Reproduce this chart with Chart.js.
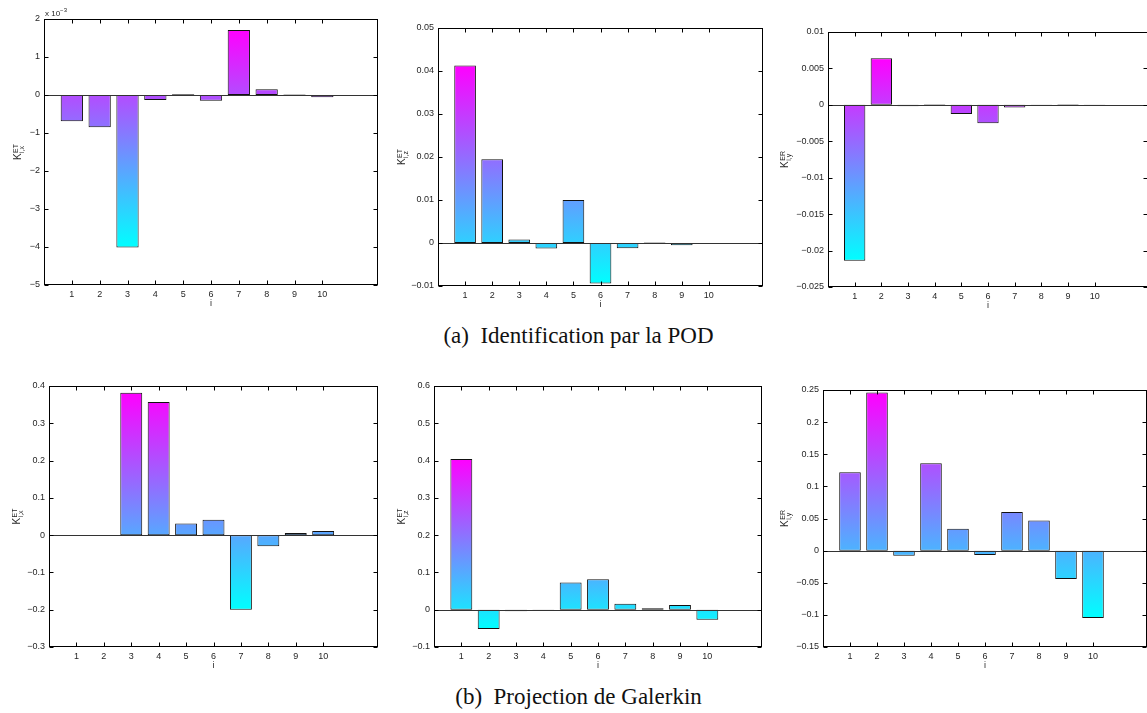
<!DOCTYPE html>
<html>
<head>
<meta charset="utf-8">
<title>Coefficients K</title>
<script src="https://cdn.jsdelivr.net/npm/chart.js@4.4.1/dist/chart.umd.min.js"></script>
<style>
  html, body { margin: 0; padding: 0; background: #fff; overflow: hidden; }
  body { width: 1147px; height: 713px; position: relative; }
  canvas { position: absolute; }
  .caption {
    position: absolute; left: 0; width: 1157px; text-align: center;
    font-family: "Liberation Serif", "Times New Roman", serif;
    font-size: 23px; line-height: 23px; color: #111; white-space: pre;
  }
</style>
</head>
<body>
<canvas id="podTx"></canvas>
<canvas id="podTz"></canvas>
<canvas id="podRy"></canvas>
<canvas id="galTx"></canvas>
<canvas id="galTz"></canvas>
<canvas id="galRy"></canvas>
<div class="caption" style="top:324px">(a)  Identification par la POD</div>
<div class="caption" style="top:685px">(b)  Projection de Galerkin</div>
<script>
// modes i = 1..10
var categories = [1, 2, 3, 4, 5, 6, 7, 8, 9, 10];

// (a) identification par la POD
var podTx = [-0.00069, -0.00085, -0.00401, -0.00013, 0.00002, -0.00015, 0.00171, 0.00015, 0.00001, -0.00006];
var podTz = [0.0413, 0.0195, 0.0008, -0.0013, 0.0100, -0.0094, -0.0012, 0.0001, -0.0005, -0.0002];
var podRy = [-0.0214, 0.0064, -0.0002, 0.0001, -0.00125, -0.00254, -0.00036, -0.0001, 0.0001, -0.0001];

// (b) projection de Galerkin
var galTx = [-0.002, -0.002, 0.382, 0.357, 0.031, 0.041, -0.200, -0.030, 0.006, 0.011];
var galTz = [0.404, -0.052, -0.004, -0.002, 0.073, 0.082, 0.016, 0.004, 0.0125, -0.027];
var galRy = [0.122, 0.246, -0.008, 0.136, 0.034, -0.007, 0.060, 0.047, -0.044, -0.105];

// y axis: [min, max, step]
var podTxAxis = [-0.005, 0.002, 0.001];
var podTzAxis = [-0.01, 0.05, 0.01];
var podRyAxis = [-0.025, 0.01, 0.005];
var galTxAxis = [-0.3, 0.4, 0.1];
var galTzAxis = [-0.1, 0.6, 0.1];
var galRyAxis = [-0.15, 0.25, 0.05];

var YW = 60, PT = 16, PR = 2, XH = 30;

Chart.defaults.font.family = '"Liberation Sans", Arial, sans-serif';
Chart.defaults.font.size = 9;
Chart.defaults.color = '#262626';

// MATLAB "cool" colormap: cyan at the data minimum, magenta at the maximum
function coolFill(context) {
    var chart = context.chart;
    if (!chart.chartArea) return null;
    var ys = chart.scales.y;
    var vals = context.dataset.data.map(function (d) { return d.y; });
    var lo = Math.min.apply(null, vals.concat([0]));
    var hi = Math.max.apply(null, vals.concat([0]));
    var g = chart.ctx.createLinearGradient(0, ys.getPixelForValue(lo), 0, ys.getPixelForValue(hi));
    g.addColorStop(0, 'rgb(0,255,255)');
    g.addColorStop(1, 'rgb(255,0,255)');
    return g;
}

function tickFormat(factor) {
    return function (v) {
        return String(parseFloat((v * factor).toFixed(6))).replace('-', '\u2212');
    };
}

// box, inward ticks, baseline and axis labels like the matlab figure
var matlabBox = {
    id: 'matlabBox',
    afterDatasetsDraw: function (chart) {
        var opt = chart.options.plugins.matlabBox;
        var c = chart.ctx, a = chart.chartArea, xs = chart.scales.x, ys = chart.scales.y;
        var l = Math.round(a.left) + 0.5, r = Math.round(a.right) - 0.5;
        var t = Math.round(a.top) + 0.5, b = Math.round(a.bottom) - 0.5;
        c.save();
        c.lineWidth = 1;

        var y0 = Math.round(ys.getPixelForValue(0)) + 0.5;
        c.strokeStyle = '#333';
        c.beginPath(); c.moveTo(l, y0); c.lineTo(r, y0); c.stroke();

        c.strokeStyle = '#000';
        c.strokeRect(l, t, r - l, b - t);
        c.beginPath();
        ys.ticks.forEach(function (tk) {
            var py = Math.round(ys.getPixelForValue(tk.value)) + 0.5;
            c.moveTo(l, py); c.lineTo(l + 4, py);
            c.moveTo(r, py); c.lineTo(r - 4, py);
        });
        categories.forEach(function (cat) {
            var px = Math.round(xs.getPixelForValue(cat)) + 0.5;
            c.moveTo(px, t); c.lineTo(px, t + 4);
            c.moveTo(px, b); c.lineTo(px, b - 4);
        });
        c.stroke();

        c.fillStyle = '#262626';
        c.font = '9px "Liberation Sans", Arial, sans-serif';
        c.textAlign = 'center';
        c.textBaseline = 'middle';
        c.fillText('i', (a.left + a.right) / 2, a.bottom + 19);

        // K^{sup}_{sub}, rotated
        c.textAlign = 'left';
        c.textBaseline = 'alphabetic';
        c.translate(a.left - opt.labelGap, (a.top + a.bottom) / 2);
        c.rotate(-Math.PI / 2);
        c.font = '10px "Liberation Sans", Arial, sans-serif';
        var wK = c.measureText('K').width;
        c.font = '7px "Liberation Sans", Arial, sans-serif';
        var wS = Math.max(c.measureText(opt.sup).width, c.measureText(opt.sub).width);
        var x0 = -(wK + wS + 0.5) / 2;
        c.font = '10px "Liberation Sans", Arial, sans-serif';
        c.fillText('K', x0, 0);
        c.font = '7px "Liberation Sans", Arial, sans-serif';
        c.fillText(opt.sup, x0 + wK + 0.5, -3.5);
        c.fillText(opt.sub, x0 + wK + 0.5, 3);
        c.setTransform(1, 0, 0, 1, 0, 0);

        if (opt.exponent) {
            c.font = '8px "Liberation Sans", Arial, sans-serif';
            c.fillText('x 10', a.left + 1, a.top - 3);
            var w = c.measureText('x 10').width;
            c.font = '6px "Liberation Sans", Arial, sans-serif';
            c.fillText(opt.exponent, a.left + 1 + w, a.top - 7);
        }
        c.restore();
    }
};

function makeChart(id, values, axis, box, label) {
    var cv = document.getElementById(id);
    cv.width = box.r - box.l + YW + PR;
    cv.height = box.b - box.t + PT + XH;
    cv.style.left = (box.l - YW) + 'px';
    cv.style.top = (box.t - PT) + 'px';

    var points = categories.map(function (c, i) { return {x: c, y: values[i]}; });

    return new Chart(cv, {
        type: 'bar',
        data: {
            datasets: [{
                data: points,
                backgroundColor: coolFill,
                borderColor: '#111',
                borderWidth: 1,
                borderSkipped: false,
                barPercentage: 0.8,
                categoryPercentage: 1
            }]
        },
        options: {
            responsive: false,
            animation: false,
            devicePixelRatio: 1,
            layout: {padding: {top: PT, right: PR, left: 0, bottom: 0}},
            plugins: {
                legend: {display: false},
                tooltip: {enabled: false},
                matlabBox: label
            },
            scales: {
                x: {
                    type: 'linear', min: 0, max: 12, offset: false,
                    grid: {display: false, drawTicks: false, offset: false},
                    border: {display: false},
                    ticks: {
                        stepSize: 1, autoSkip: false, maxRotation: 0, padding: 4,
                        callback: function (v) { return categories.indexOf(v) >= 0 ? String(v) : ''; }
                    },
                    afterFit: function (s) { s.height = XH; }
                },
                y: {
                    min: axis[0], max: axis[1],
                    grid: {display: false, drawTicks: false},
                    border: {display: false},
                    ticks: {stepSize: axis[2], autoSkip: false, padding: 4,
                        callback: tickFormat(label.exponent ? 1000 : 1)},
                    afterFit: function (s) { s.width = YW; }
                }
            }
        },
        plugins: [matlabBox]
    });
}

makeChart('podTx', podTx, podTxAxis, {l: 44, t: 19, r: 380, b: 285},
    {labelGap: 23, sup: 'ET', sub: 'i,x', exponent: '\u22123'});
makeChart('podTz', podTz, podTzAxis, {l: 438, t: 28, r: 765, b: 286},
    {labelGap: 33, sup: 'ET', sub: 'i,z'});
makeChart('podRy', podRy, podRyAxis, {l: 828, t: 32, r: 1150, b: 287},
    {labelGap: 40, sup: 'ER', sub: 'i,y'});
makeChart('galTx', galTx, galTxAxis, {l: 49, t: 386, r: 380, b: 647},
    {labelGap: 29, sup: 'ET', sub: 'i,x'});
makeChart('galTz', galTz, galTzAxis, {l: 434, t: 386, r: 764, b: 647},
    {labelGap: 29, sup: 'ET', sub: 'i,z'});
makeChart('galRy', galRy, galRyAxis, {l: 823, t: 390, r: 1149, b: 647},
    {labelGap: 35, sup: 'ER', sub: 'i,y'});
</script>
</body>
</html>
